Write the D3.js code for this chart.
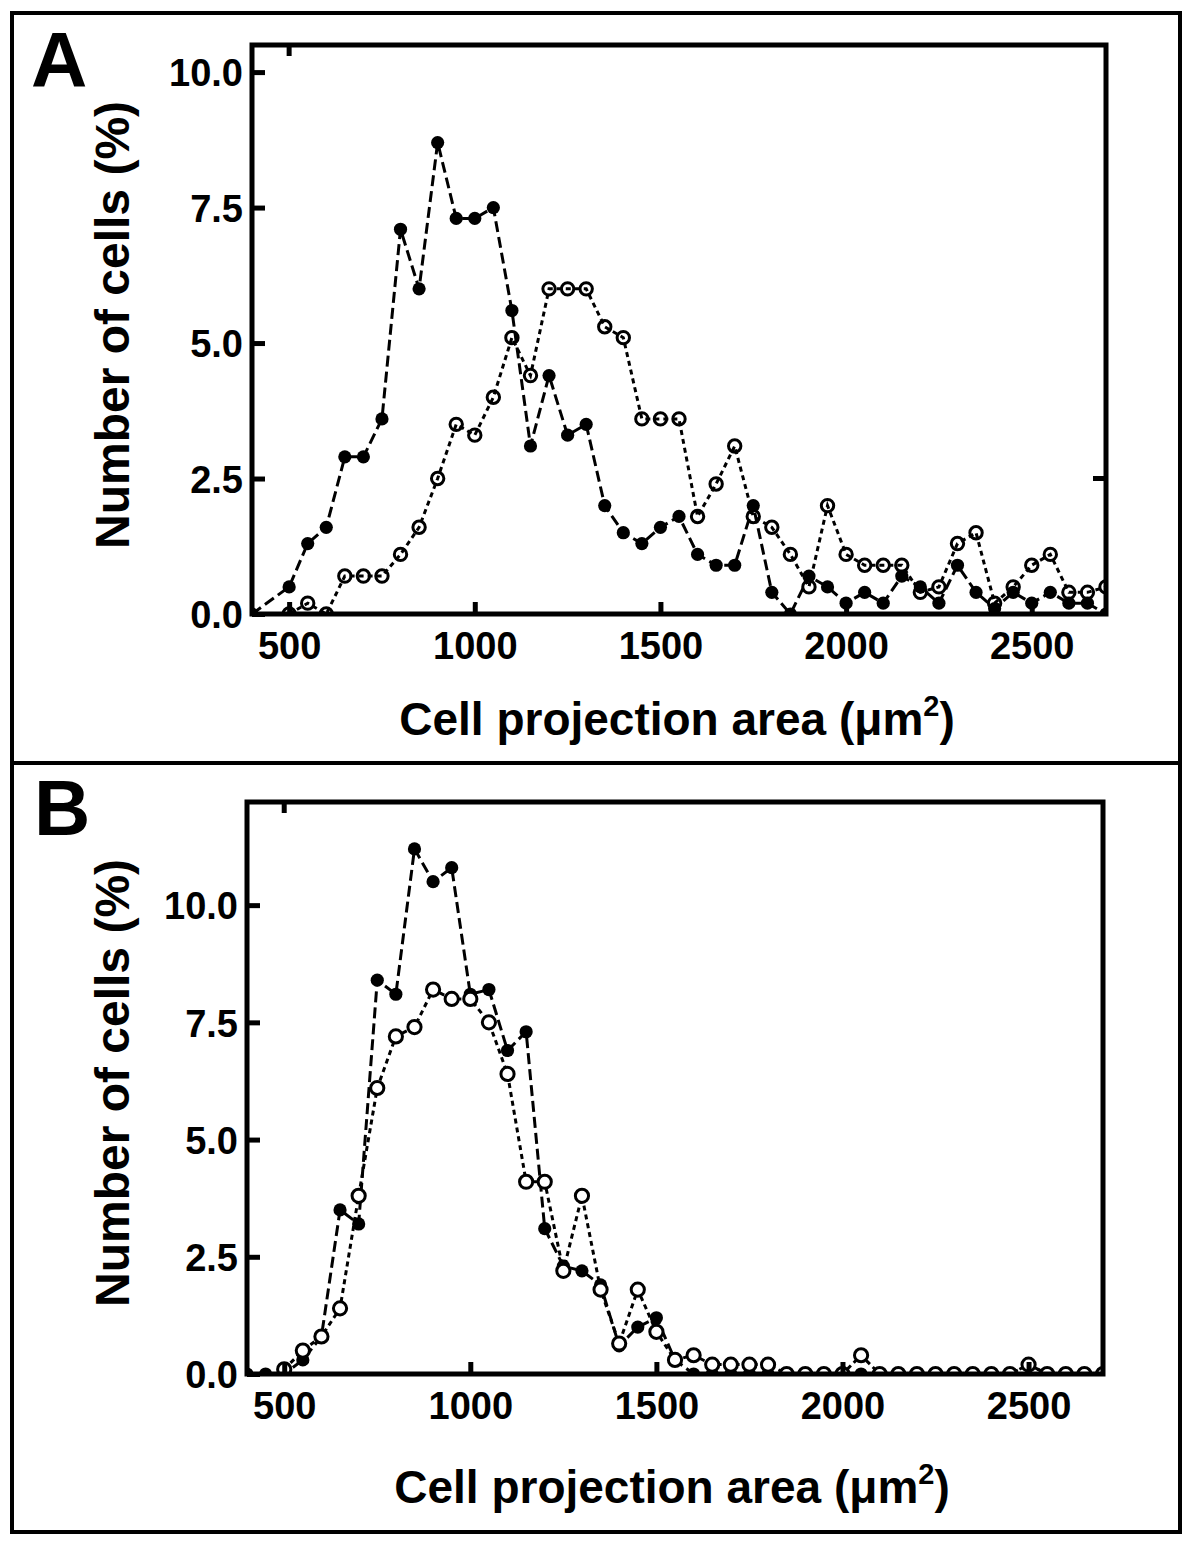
<!DOCTYPE html>
<html><head><meta charset="utf-8">
<script src="https://cdn.jsdelivr.net/npm/d3@7"></script>
<style>
body{margin:0;background:#fff}
text{font-family:"Liberation Sans",Arial,sans-serif;font-weight:bold;fill:#000}
</style>
</head><body>
<svg id="c" width="1200" height="1549"></svg>
<script>
// ---------- data ----------
const bins = [400,450,500,550,600,650,700,750,800,850,900,950,1000,1050,1100,1150,1200,1250,1300,1350,1400,1450,1500,1550,1600,1650,1700,1750,1800,1850,1900,1950,2000,2050,2100,2150,2200,2250,2300,2350,2400,2450,2500,2550,2600,2650,2700];

const filledA = [0,null,0.5,1.3,1.6,2.9,2.9,3.6,7.1,6.0,8.7,7.3,7.3,7.5,5.6,3.1,4.4,3.3,3.5,2.0,1.5,1.3,1.6,1.8,1.1,0.9,0.9,2.0,0.4,0.0,0.7,0.5,0.2,0.4,0.2,0.7,0.5,0.2,0.9,0.4,0.1,0.4,0.2,0.4,0.2,0.2,0.0];
const openA   = [null,null,0.0,0.2,0.0,0.7,0.7,0.7,1.1,1.6,2.5,3.5,3.3,4.0,5.1,4.4,6.0,6.0,6.0,5.3,5.1,3.6,3.6,3.6,1.8,2.4,3.1,1.8,1.6,1.1,0.5,2.0,1.1,0.9,0.9,0.9,0.4,0.5,1.3,1.5,0.2,0.5,0.9,1.1,0.4,0.4,0.5];

const filledB = [0,0,0,0.3,0.8,3.5,3.2,8.4,8.1,11.2,10.5,10.8,8.1,8.2,6.9,7.3,3.1,2.3,2.2,1.9,0.6,1.0,1.2,0.3,0,0,0,0,0,0,0,0,0,0,0,0,0,0,0,0,0,0,0.2,0,0,0,0];
const openB   = [null,null,0.1,0.5,0.8,1.4,3.8,6.1,7.2,7.4,8.2,8.0,8.0,7.5,6.4,4.1,4.1,2.2,3.8,1.8,0.65,1.8,0.9,0.3,0.4,0.2,0.2,0.2,0.2,0,0,0,0,0.4,0,0,0,0,0,0,0,0,0.2,0,0,0,0];

const xTickValues = [500,1000,1500,2000,2500];
const yTickValues = [0,2.5,5,7.5,10];
const yTickLabels = ["0.0","2.5","5.0","7.5","10.0"];
const panelLetters = ["A","B"];
const yTitle = "Number of cells (%)";
const xTitleMain = "Cell projection area (\u03bcm";
const xTitleSup = "2";
const xTitleEnd = ")";

// ---------- layout ----------
const svg = d3.select("#c");
svg.append("rect").attr("width",1200).attr("height",1549).attr("fill","#fff");

const panels = [
  {letter:panelLetters[0], filled:filledA, open:openA, left:252, right:1106, top:45, bottom:614, ymax:10.5,
   letterX:31, letterY:87, yTitleX:129, yTitleY:325, xTitleY:735, xTitleX:677, openFill:"none", openR:6.2, rightTick:2.5},
  {letter:panelLetters[1], filled:filledB, open:openB, left:247, right:1103, top:802, bottom:1374, ymax:12.2,
   letterX:34, letterY:835, yTitleX:129, yTitleY:1083, xTitleY:1503, xTitleX:672, openFill:"#fff", openR:6.6, rightTick:null}
];

// outer frame and divider
svg.append("rect").attr("x",12).attr("y",13).attr("width",1168).attr("height",1519)
  .attr("fill","none").attr("stroke","#000").attr("stroke-width",4);
svg.append("line").attr("x1",12).attr("x2",1180).attr("y1",763).attr("y2",763)
  .attr("stroke","#000").attr("stroke-width",4);

panels.forEach((p,pi)=>{
  const x = d3.scaleLinear().domain([400,2700]).range([p.left,p.right]);
  const y = d3.scaleLinear().domain([0,p.ymax]).range([p.bottom,p.top]);
  const g = svg.append("g");

  const clipId = "clip"+pi;
  svg.append("clipPath").attr("id",clipId).append("rect")
    .attr("x",p.left).attr("y",p.top-10).attr("width",p.right-p.left+1).attr("height",p.bottom-p.top+10);

  const plot = g.append("g").attr("clip-path",`url(#${clipId})`);

  const mk = vals => bins.map((b,i)=>({x:b,y:vals[i]})).filter(d=>d.y!==null);
  const line = d3.line().x(d=>x(d.x)).y(d=>y(d.y));

  const fData = mk(p.filled), oData = mk(p.open);

  plot.append("path").datum(fData).attr("d",line).attr("fill","none")
    .attr("stroke","#000").attr("stroke-width",3).attr("stroke-dasharray","11,5");
  plot.append("path").datum(oData).attr("d",line).attr("fill","none")
    .attr("stroke","#000").attr("stroke-width",3).attr("stroke-dasharray","5,4");

  plot.selectAll("circle.f").data(fData).join("circle").attr("class","f")
    .attr("cx",d=>x(d.x)).attr("cy",d=>y(d.y)).attr("r",6.6).attr("fill","#000");
  plot.selectAll("circle.o").data(oData).join("circle").attr("class","o")
    .attr("cx",d=>x(d.x)).attr("cy",d=>y(d.y)).attr("r",p.openR)
    .attr("fill",p.openFill).attr("stroke","#000").attr("stroke-width",3);

  // axes
  const xa = g.append("g").attr("transform",`translate(0,${p.bottom})`)
    .call(d3.axisBottom(x).tickValues(xTickValues).tickSize(-12).tickSizeOuter(0).tickPadding(18).tickFormat(d3.format("d")));
  xa.select(".domain").remove();
  xa.selectAll(".tick line").attr("stroke","#000").attr("stroke-width",5);
  xa.selectAll(".tick text").attr("font-size",38).attr("fill","#000")
    .style("font-family","'Liberation Sans',Arial,sans-serif").style("font-weight","bold");

  const ya = g.append("g").attr("transform",`translate(${p.left},0)`)
    .call(d3.axisLeft(y).tickValues(yTickValues).tickSize(-13).tickSizeOuter(0).tickPadding(9)
      .tickFormat((d,i)=>yTickLabels[i]));
  ya.select(".domain").remove();
  ya.selectAll(".tick line").attr("stroke","#000").attr("stroke-width",5);
  ya.selectAll(".tick text").attr("font-size",38).attr("fill","#000").attr("dy","0.36em")
    .style("font-family","'Liberation Sans',Arial,sans-serif").style("font-weight","bold");

  // extra inward tick on top edge at first x tick
  g.append("line").attr("x1",x(xTickValues[0])).attr("x2",x(xTickValues[0]))
    .attr("y1",p.top).attr("y2",p.top+11).attr("stroke","#000").attr("stroke-width",5);
  if(p.rightTick!==null){
    g.append("line").attr("x1",p.right).attr("x2",p.right-13)
      .attr("y1",y(p.rightTick)).attr("y2",y(p.rightTick)).attr("stroke","#000").attr("stroke-width",5);
  }

  // plot box
  g.append("rect").attr("x",p.left).attr("y",p.top).attr("width",p.right-p.left).attr("height",p.bottom-p.top)
    .attr("fill","none").attr("stroke","#000").attr("stroke-width",5);

  // panel letter
  g.append("text").attr("x",p.letterX).attr("y",p.letterY).attr("font-size",78).text(p.letter);

  // y title
  g.append("text").attr("transform",`translate(${p.yTitleX},${p.yTitleY}) rotate(-90)`)
    .attr("text-anchor","middle").attr("font-size",48).text(yTitle);

  // x title
  const xt = g.append("text").attr("x",p.xTitleX).attr("y",p.xTitleY)
    .attr("text-anchor","middle").attr("font-size",46);
  xt.append("tspan").text(xTitleMain);
  xt.append("tspan").attr("font-size",29).attr("dy",-19).text(xTitleSup);
  xt.append("tspan").attr("dy",19).text(xTitleEnd);
});
</script>
</body></html>
